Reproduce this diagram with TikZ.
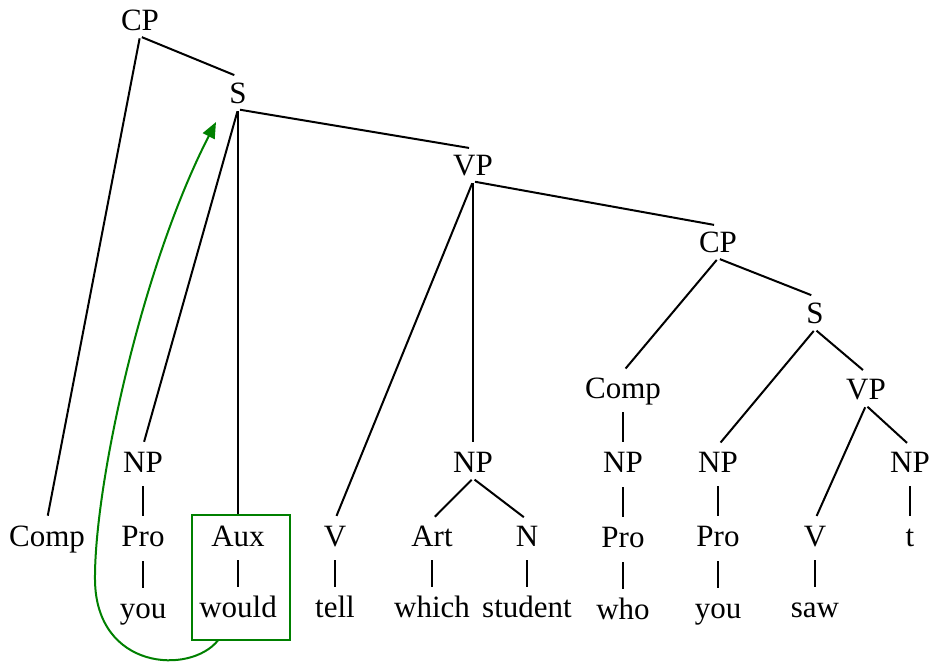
\documentclass[tikz,border=0pt]{standalone}
\usepackage{fontspec}
\setmainfont{Liberation Serif}
\usepackage{xcolor}
\usepackage{tikz}
\usetikzlibrary{arrows.meta,positioning}

\definecolor{movegreen}{RGB}{0,128,0}

\begin{document}
\begin{tikzpicture}[
    x=0.5pt, y=-0.5pt,
    node distance=21pt,
    cat/.style={inner xsep=1pt, inner ysep=3pt, text height=10pt, text depth=0pt, font=\fontsize{15.5}{18}\selectfont},
    branch/.style={line width=1pt, shorten <=1pt, shorten >=2pt},
    bar/.style={line width=0.7pt, shorten <=4pt, shorten >=2pt},
    auxbox/.style={rectangle, draw=movegreen, line width=1pt, minimum width=49pt, minimum height=62.5pt},
    move/.style={-{Triangle[length=8pt, width=6.5pt]}, draw=movegreen, line width=1pt}
]
    \useasboundingbox (0,0) rectangle (931,669);

    % upper tree
    \node [cat] (cp) at (140,20) {CP};
    \node [cat] (s) at (238,93) {S};
    \node [cat] (vp) at (473,165) {VP};
    \node [cat] (cpe) at (718,242) {CP};
    \node [cat] (se) at (815,313) {S};
    \node [cat] (compe) at (623,388) {Comp};
    \node [cat] (vpe) at (866,389) {VP};

    % NP row
    \node [cat] (npsubj) at (143,462) {NP};
    \node [cat] (npobj) at (473,462) {NP};
    \node [cat, below=of compe] (npwh) {NP};
    \node [cat] (npsubje) at (718,462) {NP};
    \node [cat] (npobje) at (910,462) {NP};

    % categories
    \node [cat] (comp) at (47,536) {Comp};
    \node [cat, below=of npsubj] (prosubj) {Pro};
    \node [cat] (aux) at (238,536) {Aux};
    \node [cat] (v) at (335,536) {V};
    \node [cat] (art) at (432,536) {Art};
    \node [cat] (n) at (527,536) {N};
    \node [cat, below=of npwh] (prowh) {Pro};
    \node [cat, below=of npsubje] (prosubje) {Pro};
    \node [cat] (ve) at (815,536) {V};
    \node [cat, below=of npobje] (trace) {t};

    % words
    \node [cat, below=19.5pt of prosubj] (you) {you};
    \node [cat, below=19.5pt of aux] (would) {would};
    \node [cat, below=19.5pt of v] (tell) {tell};
    \node [cat, below=19.5pt of art] (which) {which};
    \node [cat, below=19.5pt of n] (student) {student};
    \node [cat, below=19.5pt of prowh] (who) {who};
    \node [cat, below=19.5pt of prosubje] (youe) {you};
    \node [cat, below=19.5pt of ve] (saw) {saw};

    % branches
    \draw [branch] (cp.south) -- (comp.north);
    \draw [branch] (cp.south) -- (s.north);
    \draw [branch] (s.south) -- (npsubj.north);
    \draw [branch] (s.south) -- (aux.north);
    \draw [branch] (s.south) -- (vp.north);
    \draw [branch] (vp.south) -- (v.north);
    \draw [branch] (vp.south) -- (npobj.north);
    \draw [branch] (vp.south) -- (cpe.north);
    \draw [branch] (npobj.south) -- (art.north);
    \draw [branch] (npobj.south) -- (n.north);
    \draw [branch] (cpe.south) -- (compe.north);
    \draw [branch] (cpe.south) -- (se.north);
    \draw [branch] (se.south) -- (npsubje.north);
    \draw [branch] (se.south) -- (vpe.north);
    \draw [branch] (vpe.south) -- (ve.north);
    \draw [branch] (vpe.south) -- (npobje.north);

    % unary bars
    \draw [bar] (npsubj.south) -- (prosubj.north);
    \draw [bar] (prosubj.south) -- (you.north);
    \draw [bar] (aux.south) -- (would.north);
    \draw [bar] (v.south) -- (tell.north);
    \draw [bar] (art.south) -- (which.north);
    \draw [bar] (n.south) -- (student.north);
    \draw [bar] (compe.south) -- (npwh.north);
    \draw [bar] (npwh.south) -- (prowh.north);
    \draw [bar] (prowh.south) -- (who.north);
    \draw [bar] (npsubje.south) -- (prosubje.north);
    \draw [bar] (prosubje.south) -- (youe.north);
    \draw [bar] (ve.south) -- (saw.north);
    \draw [bar] (npobje.south) -- (trace.north);

    % movement of Aux
    \node [auxbox] (box) at (241,577) {};
    \coordinate (landing) at (216,122);
    \draw [move] (box.-110) .. controls (190,675) and (96,670) .. (95,580)
        .. controls (94,490) and (140,270) .. (landing);
\end{tikzpicture}
\end{document}
